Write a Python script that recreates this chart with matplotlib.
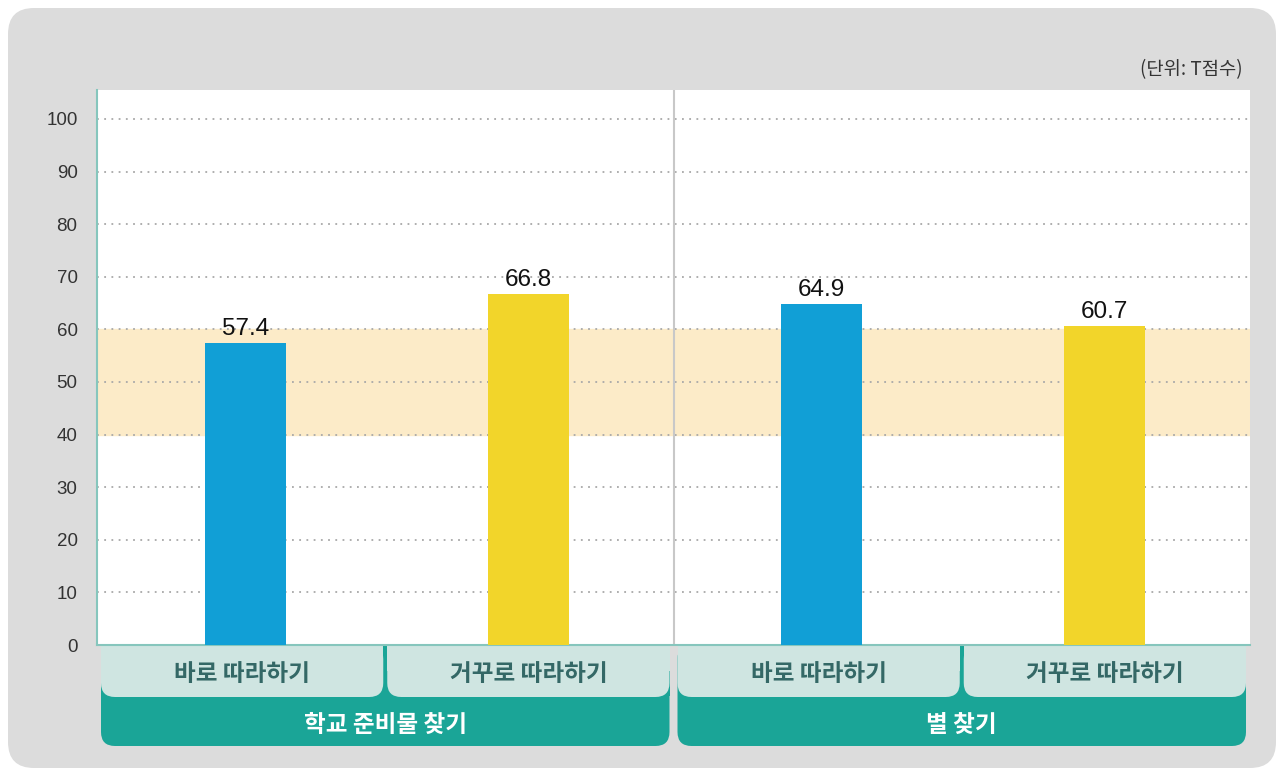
import matplotlib
matplotlib.use("Agg")
import matplotlib.pyplot as plt
from matplotlib.patches import FancyBboxPatch, Rectangle

plt.rcParams['font.family'] = ['Noto Sans CJK KR', 'DejaVu Sans']

# data
groups = ["학교 준비물 찾기", "별 찾기"]
tasks = ["바로 따라하기", "거꾸로 따라하기", "바로 따라하기", "거꾸로 따라하기"]
scores = [57.4, 66.8, 64.9, 60.7]
bar_colors = ["#119fd6", "#f2d52a", "#119fd6", "#f2d52a"]
yticks = [0, 10, 20, 30, 40, 50, 60, 70, 80, 90, 100]
unit_text = "(단위: T점수)"

W, H = 1284, 772
fig = plt.figure(figsize=(W / 100, H / 100), dpi=100)
fig.patch.set_facecolor("white")

# background (pixel space) axes
bg = fig.add_axes([0, 0, 1, 1], zorder=0)
bg.set_xlim(0, W)
bg.set_ylim(0, H)
bg.axis("off")
bg.add_patch(FancyBboxPatch((10, 6), W - 20, H - 16, boxstyle="round,pad=0,rounding_size=26",
                            fc="#f0f0f0", ec="none"))
bg.add_patch(FancyBboxPatch((8, 4), W - 16, H - 12, boxstyle="round,pad=0,rounding_size=26",
                            fc="#dcdcdc", ec="none"))

# main axes
ax_l, ax_r, ax_b, ax_t = 97, 1250, H - 645, H - 90
ax = fig.add_axes([ax_l / W, ax_b / H, (ax_r - ax_l) / W, (ax_t - ax_b) / H], zorder=2)
ax.set_facecolor("white")
ax.set_xlim(0, 4)
ax.set_ylim(0, 105.5)

ax.axhspan(40, 60, color="#fcebc8", zorder=0)
for y in yticks[1:]:
    ax.axhline(y, color="#a8a8a8", lw=1.3, ls=(0, (1, 3)), zorder=1)
ax.axvline(2, color="#c8c8c8", lw=1.5, zorder=1)

xs = [0.515, 1.497, 2.513, 3.495]
ax.bar(xs, scores, width=0.28, color=bar_colors, zorder=3)
for x, v in zip(xs, scores):
    ax.text(x, v + 0.5, f"{v}", ha="center", va="bottom", fontsize=17.5,
            family=["Liberation Sans", "DejaVu Sans"], color="#111111", zorder=4)

for s in ["top", "right"]:
    ax.spines[s].set_visible(False)
ax.spines["left"].set_color("#86c6bd")
ax.spines["left"].set_linewidth(1.5)
ax.spines["bottom"].set_color("#86c6bd")
ax.spines["bottom"].set_linewidth(1.5)
ax.set_xticks([])
ax.set_yticks(yticks)
ax.set_yticklabels([str(t) for t in yticks], family=["Liberation Sans", "DejaVu Sans"],
                   fontsize=13.5, color="#333333")
ax.tick_params(axis="y", length=0, pad=14)

fig.text(1243 / W, 1 - 70 / H, unit_text, ha="right", va="center", fontsize=13.5, color="#333333")

# category label boxes below axis (pixel space)
def px(xd):
    return ax.transData.transform((xd, 0))[0]

def bottom_round_box(x0, x1, y0, y1, color, r):
    bg.add_patch(FancyBboxPatch((x0, y0), x1 - x0, y1 - y0,
                                boxstyle=f"round,pad=0,rounding_size={r}", fc=color, ec="none", zorder=1))
    bg.add_patch(Rectangle((x0, (y0 + y1) / 2), x1 - x0, (y1 - y0) / 2, fc=color, ec="none", zorder=1))

fig.canvas.draw()
sub_top, sub_bot = H - 645, H - 697
grp_bot = H - 746
for gi, g in enumerate(groups):
    gx0, gx1 = px(2 * gi) + 4, px(2 * gi + 2) - 4
    bottom_round_box(gx0, gx1, grp_bot, sub_top, "#1aa597", 14)
    bg.text((gx0 + gx1) / 2, (grp_bot + sub_bot) / 2 - 3, g, ha="center", va="center",
            fontsize=17, fontweight="bold", color="white", zorder=3)
for ti, t in enumerate(tasks):
    tx0, tx1 = px(ti) + 4, px(ti + 1) - 2
    if ti % 2 == 1:
        tx0, tx1 = px(ti) + 2, px(ti + 1) - 4
    bottom_round_box(tx0, tx1, sub_bot, sub_top, "#cfe5e1", 14)
    bg.text((tx0 + tx1) / 2, (sub_bot + sub_top) / 2 - 3, t, ha="center", va="center",
            fontsize=17, fontweight="bold", color="#346866", zorder=3)

fig.savefig("out.png", dpi=100, facecolor=fig.get_facecolor())
